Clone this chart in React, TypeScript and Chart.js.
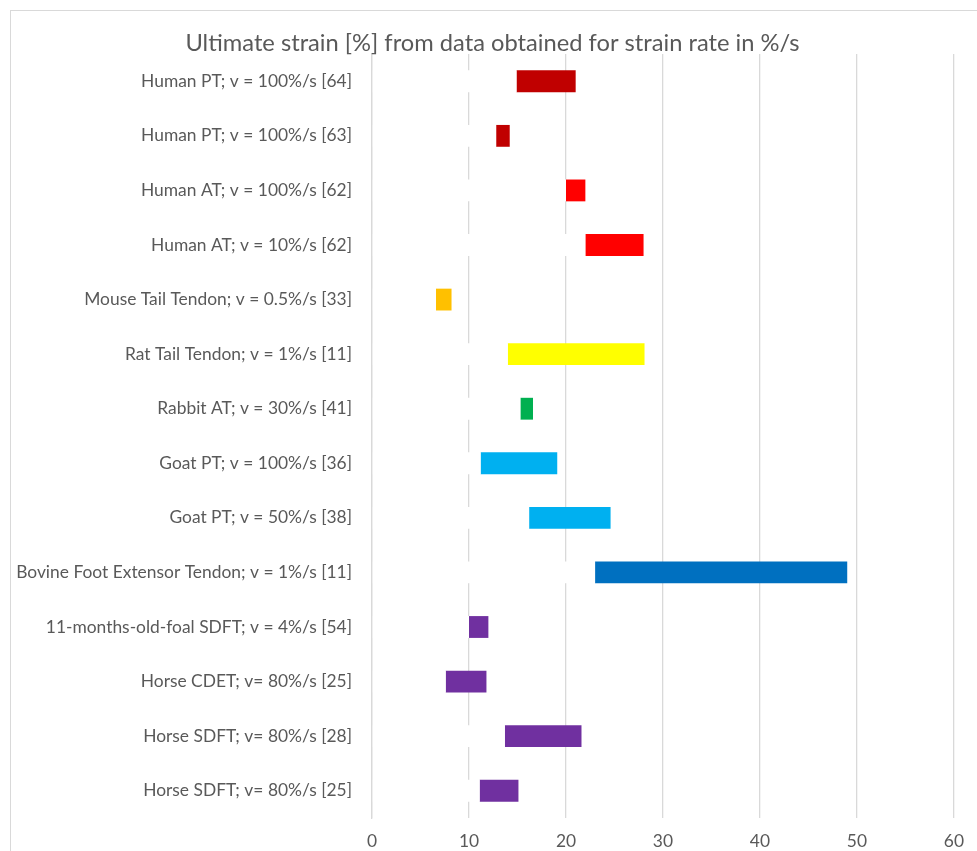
import React, { useEffect, useRef } from "react";
import { Chart, registerables } from "chart.js";

Chart.register(...registerables);

const titleText = "Ultimate strain [%] from data obtained for strain rate in %/s";

const labels = [
  "Human PT; v = 100%/s [64]",
  "Human PT; v = 100%/s [63]",
  "Human AT; v = 100%/s [62]",
  "Human AT; v = 10%/s [62]",
  "Mouse Tail Tendon; v = 0.5%/s [33]",
  "Rat Tail Tendon; v = 1%/s [11]",
  "Rabbit AT; v = 30%/s [41]",
  "Goat PT; v = 100%/s [36]",
  "Goat PT; v = 50%/s [38]",
  "Bovine Foot Extensor Tendon; v = 1%/s [11]",
  "11-months-old-foal SDFT; v = 4%/s [54]",
  "Horse CDET; v= 80%/s [25]",
  "Horse SDFT; v= 80%/s [28]",
  "Horse SDFT; v= 80%/s [25]",
];

const minStrain = [14.9, 12.8, 20.0, 22.0, 6.6, 14.0, 15.3, 11.2, 16.2, 23.0, 10.0, 7.6, 13.7, 11.1];
const maxStrain = [21.0, 14.2, 22.0, 28.0, 8.2, 28.1, 16.6, 19.1, 24.6, 49.0, 12.0, 11.8, 21.6, 15.1];

const barColors = [
  "#C00000", "#C00000", "#FF0000", "#FF0000", "#FFC000", "#FFFF00", "#00B050",
  "#00B0F0", "#00B0F0", "#0070C0", "#7030A0", "#7030A0", "#7030A0", "#7030A0",
];

const xTicks = [0, 10, 20, 30, 40, 50, 60];

const FONT = "Lato, 'Open Sans', sans-serif";

const titlePlugin = {
  id: "centeredTitle",
  afterDraw(chart: any) {
    const ctx = chart.ctx;
    ctx.save();
    ctx.font = `normal 23.7px ${FONT}`;
    ctx.fillStyle = "#595959";
    ctx.textAlign = "center";
    ctx.textBaseline = "middle";
    ctx.fillText(titleText, 492.5, 43.5);
    ctx.restore();
  },
};

export default function App() {
  const ref = useRef<HTMLCanvasElement | null>(null);

  useEffect(() => {
    if (!ref.current) return;
    const chart = new Chart(ref.current, {
      type: "bar",
      data: {
        labels,
        datasets: [
          {
            label: "base",
            data: minStrain.map((v) => [0, v]) as any,
            backgroundColor: "#FFFFFF",
            grouped: false,
            categoryPercentage: 1,
            barPercentage: 0.4,
          } as any,
          {
            label: "Ultimate strain",
            data: minStrain.map((v, i) => [v, maxStrain[i]]) as any,
            backgroundColor: barColors,
            grouped: false,
            categoryPercentage: 1,
            barPercentage: 0.4,
          } as any,
        ],
      },
      options: {
        indexAxis: "y",
        animation: false,
        responsive: false,
        maintainAspectRatio: false,
        layout: { padding: { top: 54, right: 22, bottom: 0, left: 0 } },
        plugins: {
          legend: { display: false },
          tooltip: { enabled: false },
          title: { display: false },
        },
        scales: {
          x: {
            type: "linear",
            min: 0,
            max: 60,
            afterBuildTicks: (scale: any) => {
              scale.ticks = xTicks.map((v) => ({ value: v }));
            },
            afterFit: (scale: any) => {
              scale.height = 33;
            },
            grid: { color: "#D9D9D9", lineWidth: 1.3, drawTicks: false },
            border: { display: false },
            ticks: {
              color: "#595959",
              font: { family: FONT, size: 17.4 },
              padding: 13,
            },
          },
          y: {
            type: "category",
            afterFit: (scale: any) => {
              scale.width = 372;
            },
            grid: { display: false, drawTicks: false },
            border: { display: true, color: "#D9D9D9", width: 1.3, z: 1 } as any,
            ticks: {
              color: "#595959",
              font: { family: FONT, size: 17.4 },
              padding: 20,
              autoSkip: false,
            },
          },
        },
      } as any,
      plugins: [titlePlugin],
    });
    return () => chart.destroy();
  }, []);

  return (
    <div style={{ position: "fixed", left: 0, top: 0, width: 977, height: 851, overflow: "hidden", background: "#fff" }}>
      <div
        style={{
          position: "absolute",
          left: 10,
          top: 10,
          width: 1000,
          height: 900,
          border: "1px solid #D9D9D9",
          boxSizing: "border-box",
        }}
      />
      <canvas ref={ref} width={977} height={851} style={{ position: "absolute", left: 0, top: 0 }} />
    </div>
  );
}
